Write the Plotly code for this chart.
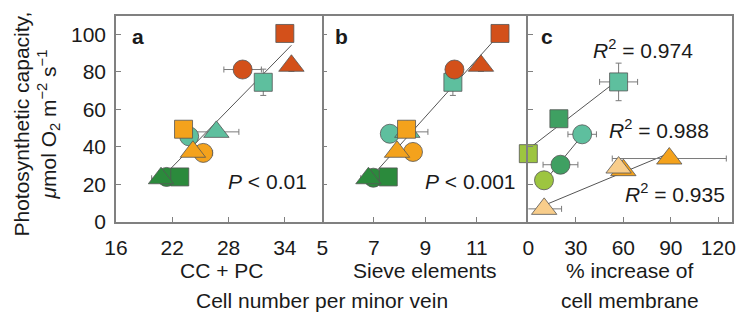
import numpy as np
import plotly.graph_objects as go

# ---- colours -------------------------------------------------------------
RED = "#D3501A"
TEAL = "#5EBF9E"
ORANGE = "#F4A21C"
GREEN = "#2B8A3C"
MIDGREEN = "#3FA062"
LIGHTGREEN = "#9DC540"
LIGHTORANGE = "#F8CD8B"

# ---- panel a: companion + phloem parenchyma cells per minor vein --------
a_x = [23.8, 31.7, 26.7, 21.4, 22.8, 20.8, 25.3, 23.2, 24.2, 29.5, 34.0, 34.7]
a_y = [45.6, 74.4, 48.0, 24.0, 24.0, 23.3, 36.8, 49.4, 37.4, 81.2, 100.4, 83.2]
a_xerr = [0, 0.4, 2.4, 0, 0, 1.0, 1.0, 0, 0, 2.0, 0.4, 0.3]
a_yerr = [0, 7.0, 0, 0, 0, 0, 0, 0, 0, 0, 2.0, 3.0]

# ---- panel b: sieve elements per minor vein -----------------------------
b_x = [7.62, 10.07, 8.30, 6.98, 7.56, 6.79, 8.52, 8.27, 7.90, 10.13, 11.90, 11.16]
b_y = [47.0, 74.4, 48.0, 23.6, 24.0, 23.3, 37.3, 49.4, 37.4, 81.2, 100.4, 83.2]
b_xerr = [0, 0, 0.8, 0, 0, 0.3, 0, 0, 0, 0.3, 0.3, 0]
b_yerr = [0, 7.0, 0, 0, 0, 0, 0, 0, 0, 0, 1.5, 3.0]

# shared colours / shapes for panels a and b
ab_color = [TEAL, TEAL, TEAL, GREEN, GREEN, GREEN,
            ORANGE, ORANGE, ORANGE, RED, RED, RED]
ab_symbol = ["circle", "square", "triangle-up"] * 4

# ---- panel c: % increase of cell membrane --------------------------------
c_sq_x = [0.0, 19.3, 57.0]
c_sq_y = [36.4, 55.0, 74.6]
c_sq_xerr = [0, 0, 12.0]
c_sq_yerr = [0, 0, 10.0]
c_sq_color = [LIGHTGREEN, MIDGREEN, TEAL]

c_ci_x = [9.9, 20.3, 34.0]
c_ci_y = [22.2, 30.5, 46.7]
c_ci_xerr = [0, 11.0, 9.0]
c_ci_color = [LIGHTGREEN, MIDGREEN, TEAL]

c_tr_x = [10.0, 60.0, 57.0, 89.0]
c_tr_y = [7.0, 27.6, 29.0, 33.8]
c_tr_xerr = [11.0, 0, 0, 36.0]
c_tr_yerr = [0, 0, 3.0, 0]
c_tr_color = [LIGHTORANGE, ORANGE, LIGHTORANGE, ORANGE]

r2_labels = ["0.974", "0.988", "0.935"]
p_labels = ["0.01", "0.001"]

a_ticks = [16, 22, 28, 34]
b_ticks = [5, 7, 9, 11]
c_ticks = [0, 30, 60, 90, 120]
y_ticks = [0, 20, 40, 60, 80, 100]

FONT = "Arial, Liberation Sans, sans-serif"
TXT = "#1a1a1a"
FRAME = "#808080"
ERR = dict(color="#7a7a7a", thickness=1, width=3)
OUTLINE = dict(color="#555555", width=0.8)
SIZES = {"circle": 19, "square": 18, "triangle-up": 22}

fig = go.Figure()


def points(xs, ys, xerr, yerr, colors, symbols, xa, ya):
    fig.add_trace(go.Scatter(
        x=xs, y=ys, mode="markers", xaxis=xa, yaxis=ya,
        cliponaxis=False, showlegend=False,
        error_x=dict(type="data", array=xerr, visible=True, **ERR),
        error_y=dict(type="data", array=yerr, visible=True, **ERR),
        marker=dict(color=colors, symbol=symbols, opacity=1,
                    size=[SIZES[s] for s in symbols], line=OUTLINE),
    ))


def fit_line(xs, ys, xa, ya):
    k, c = np.polyfit(xs, ys, 1)
    lo, hi = min(xs), max(xs)
    fig.add_trace(go.Scatter(
        x=[lo, hi], y=[k * lo + c, k * hi + c], mode="lines",
        xaxis=xa, yaxis=ya, showlegend=False,
        line=dict(color="#555555", width=1),
    ))


# panel a
fit_line(a_x, a_y, "x", "y")
points(a_x, a_y, a_xerr, a_yerr, ab_color, ab_symbol, "x", "y")
# panel b
fit_line(b_x, b_y, "x2", "y2")
points(b_x, b_y, b_xerr, b_yerr, ab_color, ab_symbol, "x2", "y2")
# panel c: one regression per marker shape
fit_line(c_sq_x, c_sq_y, "x3", "y3")
fit_line(c_ci_x, c_ci_y, "x3", "y3")
fit_line(c_tr_x, c_tr_y, "x3", "y3")
points(c_sq_x, c_sq_y, c_sq_xerr, c_sq_yerr, c_sq_color,
       ["square"] * 3, "x3", "y3")
points(c_ci_x, c_ci_y, c_ci_xerr, [0] * 3, c_ci_color,
       ["circle"] * 3, "x3", "y3")
points(c_tr_x, c_tr_y, c_tr_xerr, c_tr_yerr, c_tr_color,
       ["triangle-up"] * 4, "x3", "y3")

W, H = 741, 322
L, R, T, B = 116, 5, 16, 100
pw = W - L - R
d1 = (323.7 - L) / pw
d2 = (531.0 - L) / pw

xcommon = dict(showgrid=False, zeroline=False, showline=True, mirror=True,
               linecolor=FRAME, linewidth=1.5, ticks="inside", ticklen=5,
               tickwidth=1, tickcolor=FRAME, ticklabelstandoff=6,
               tickfont=dict(family=FONT, size=21, color=TXT))
ycommon = dict(showgrid=False, zeroline=False, ticks="inside", ticklen=5,
               tickwidth=1, tickcolor=FRAME, range=[0, 109.7],
               tickvals=y_ticks, domain=[0, 1], linecolor=FRAME, linewidth=1.5)

fig.update_layout(
    width=W, height=H, margin=dict(l=L, r=R, t=T, b=B),
    paper_bgcolor="white", plot_bgcolor="white",
    font=dict(family=FONT, size=21, color=TXT),
    xaxis=dict(domain=[0, d1], range=[16, 38], tickvals=a_ticks,
               anchor="y", **xcommon),
    xaxis2=dict(domain=[d1, d2], range=[5, 13], tickvals=b_ticks,
                anchor="y2", **xcommon),
    xaxis3=dict(domain=[d2, 1], range=[0, 128.6], tickvals=c_ticks,
                anchor="y3", **xcommon),
    # panel a draws its own left/right frame; panel c draws its own left/right
    # frame, so the middle panel needs no vertical lines of its own
    yaxis=dict(anchor="x", showline=True, mirror=True, showticklabels=True,
               ticklabelstandoff=4,
               tickfont=dict(family=FONT, size=21, color=TXT), **ycommon),
    yaxis2=dict(anchor="x2", showline=False, showticklabels=False, **ycommon),
    yaxis3=dict(anchor="x3", showline=True, mirror=True,
                showticklabels=False, **ycommon),
)

ann = []


def text(s, x, y, xref, yref, size=21, **kw):
    ann.append(dict(text=s, x=x, y=y, xref=xref, yref=yref, showarrow=False,
                    xanchor="center", yanchor="middle",
                    font=dict(family=FONT, size=size, color=TXT), **kw))


# panel letters
text("<b>a</b>", 18.3, 98.9, "x", "y")
text("<b>b</b>", 5.73, 98.9, "x2", "y2")
text("<b>c</b>", 12.0, 98.9, "x3", "y3")

# statistics
text(f"<i>P</i> < {p_labels[0]}", 32.1, 21.7, "x", "y")
text(f"<i>P</i> < {p_labels[1]}", 10.76, 21.7, "x2", "y2")
text(f"<i>R</i><sup>2</sup> = {r2_labels[0]}", 72.3, 92.3, "x3", "y3")
text(f"<i>R</i><sup>2</sup> = {r2_labels[1]}", 82.4, 49.7, "x3", "y3")
text(f"<i>R</i><sup>2</sup> = {r2_labels[2]}", 92.5, 15.6, "x3", "y3")


def px_x(px):
    return (px - L) / pw


def px_y(py):
    return (H - B - py) / (H - T - B)


# axis titles
text("CC + PC", px_x(222), px_y(270), "paper", "paper")
text("Sieve elements", px_x(427), px_y(270), "paper", "paper")
text("Cell number per minor vein", px_x(323), px_y(300), "paper", "paper")
text("% increase of", px_x(633), px_y(270), "paper", "paper")
text("cell membrane", px_x(633), px_y(300), "paper", "paper")
text("Photosynthetic capacity,<br><i>μ</i>mol O<sub>2</sub> m<sup>−2</sup> s<sup>−1</sup>",
     px_x(36), px_y(124), "paper", "paper", textangle=-90)

fig.update_layout(annotations=ann)
fig.write_html("out.html")
